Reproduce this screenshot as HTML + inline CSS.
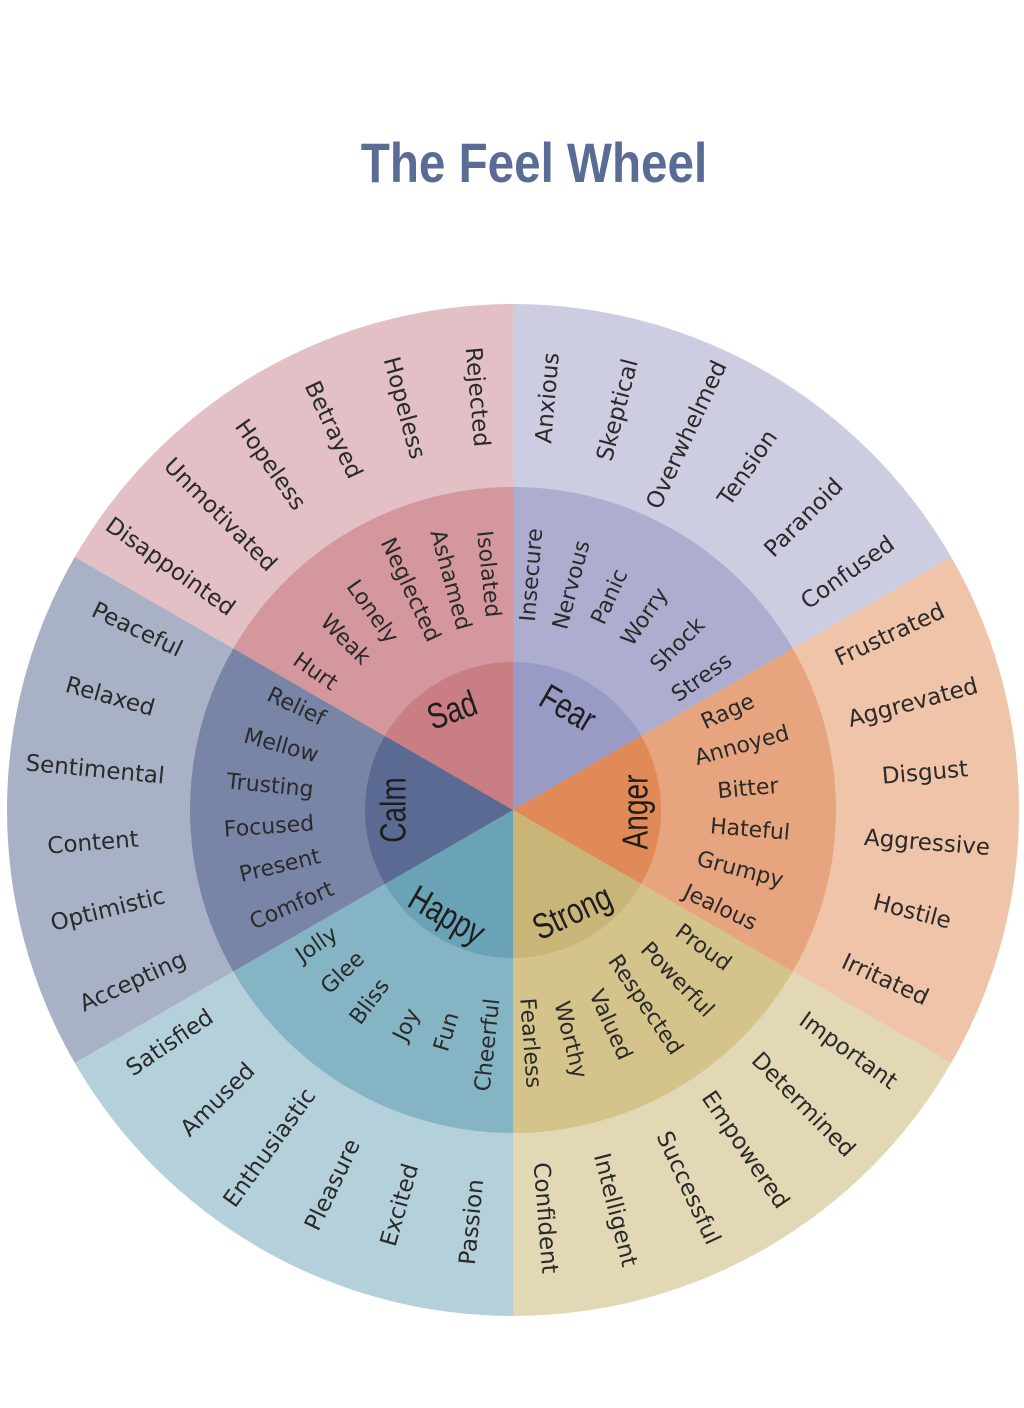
<!DOCTYPE html>
<html><head><meta charset="utf-8">
<style>
html,body{margin:0;padding:0;background:#fff;}
body{width:1024px;height:1408px;overflow:hidden;}
svg{display:block;}
text{font-family:"DejaVu Sans","Liberation Sans",sans-serif;fill:#2a2a2a;}
.t{font-family:"Liberation Sans Narrow","Liberation Sans",sans-serif;font-weight:bold;fill:#5a6b95;}
.in{font-family:"Liberation Sans",sans-serif;fill:#1e1e1e;}
</style></head><body>
<svg id="s" width="1024" height="1408" viewBox="0 0 1024 1408" xmlns="http://www.w3.org/2000/svg">
<text class="t" x="534" y="182" font-size="56" text-anchor="middle" transform="translate(534 0) scale(0.85 1) translate(-534 0)">The Feel Wheel</text>
<g id="w"></g>
</svg>
<script>
var cx=513,cy=810,R=[506,323,148];
var cols=[["#e3c0c5","#d4979d","#c97e84"],["#cccde0","#adaecf","#9a9bc4"],["#efc4a8","#e6a57f","#df8a57"],["#e3d8b5","#d5c38c","#c8b577"],["#b4d0da","#85b4c4","#6ba3b6"],["#a9b1c6","#7985a6","#5b6a93"]];
var starts=[-150,-90,-30,30,90,150];
var g=document.getElementById('w'),h='';
function pt(r,a){a=a*Math.PI/180;return (cx+r*Math.cos(a)).toFixed(1)+' '+(cy+r*Math.sin(a)).toFixed(1);}
for(var k=0;k<3;k++)for(var i=0;i<6;i++){var r=R[k],a0=starts[i],a1=a0+60;
h+='<path d="M'+cx+' '+cy+' L'+pt(r,a0)+' A'+r+' '+r+' 0 0 1 '+pt(r,a1)+' Z" fill="'+cols[i][k]+'"/>';}
var words=[
[0,23,[["Rejected",477,397],["Hopeless",404,408],["Betrayed",333,430],["Hopeless",270,465],["Unmotivated",220,515],["Disappointed",170,567]]],
[1,23,[["Anxious",548,398],["Skeptical",618,410],["Overwhelmed",687,435],["Tension",748,468],["Paranoid",804,518],["Confused",848,573]]],
[1,23,[["Frustrated",890,635],["Aggrevated",913,703],["Disgust",925,773],["Aggressive",927,843],["Hostile",912,912],["Irritated",885,980]]],
[1,23,[["Important",848,1051],["Determined",803,1105],["Empowered",745,1150],["Successful",688,1188],["Intelligent",615,1210],["Confident",545,1218]]],
[0,23,[["Passion",472,1222],["Excited",400,1205],["Pleasure",333,1185],["Enthusiastic",270,1148],["Amused",218,1100],["Satisfied",170,1043]]],
[0,23,[["Peaceful",137,630],["Relaxed",110,697],["Sentimental",95,770],["Content",93,843],["Optimistic",108,910],["Accepting",133,982]]],
[0,22,[["Isolated",488,574],["Ashamed",450,580],["Neglected",410,590],["Lonely",372,612],["Weak",345,640],["Hurt",315,672]]],
[1,22,[["Insecure",532,575],["Nervous",572,585],["Panic",610,597],["Worry",645,617],["Shock",678,645],["Stress",702,678]]],
[1,22,[["Rage",728,712],["Annoyed",742,746],["Bitter",748,789],["Hateful",750,830],["Grumpy",740,870],["Jealous",720,908]]],
[1,22,[["Proud",703,948],["Powerful",677,980],["Respected",645,1005],["Valued",610,1025],["Worthy",570,1040],["Fearless",530,1043]]],
[0,22,[["Cheerful",488,1045],["Fun",447,1032],["Joy",407,1025],["Bliss",370,1002],["Glee",343,973],["Jolly",317,945]]],
[0,22,[["Relief",296,707],["Mellow",281,746],["Trusting",270,786],["Focused",269,827],["Present",280,866],["Comfort",292,906]]]
];
words.forEach(function(grp){grp[2].forEach(function(w){
var a=Math.atan2(w[2]-cy,w[1]-cx)*180/Math.PI; if(!grp[0])a+=180;
h+='<text x="'+w[1]+'" y="'+w[2]+'" font-size="'+grp[1]+'" text-anchor="middle" dominant-baseline="central" transform="rotate('+a.toFixed(1)+' '+w[1]+' '+w[2]+')">'+w[0]+'</text>';});});
[["Sad",452,710,-20],["Fear",568,708,30],["Anger",635,812,-90],["Strong",572,912,-25],["Happy",447,915,30],["Calm",393,810,-90]].forEach(function(w){
h+='<g transform="translate('+w[1]+' '+w[2]+') rotate('+w[3]+') scale(0.78 1)"><text class="in" x="0" y="0" font-size="36" text-anchor="middle" dominant-baseline="central">'+w[0]+'</text></g>';});
g.innerHTML=h;
</script>
</body></html>
